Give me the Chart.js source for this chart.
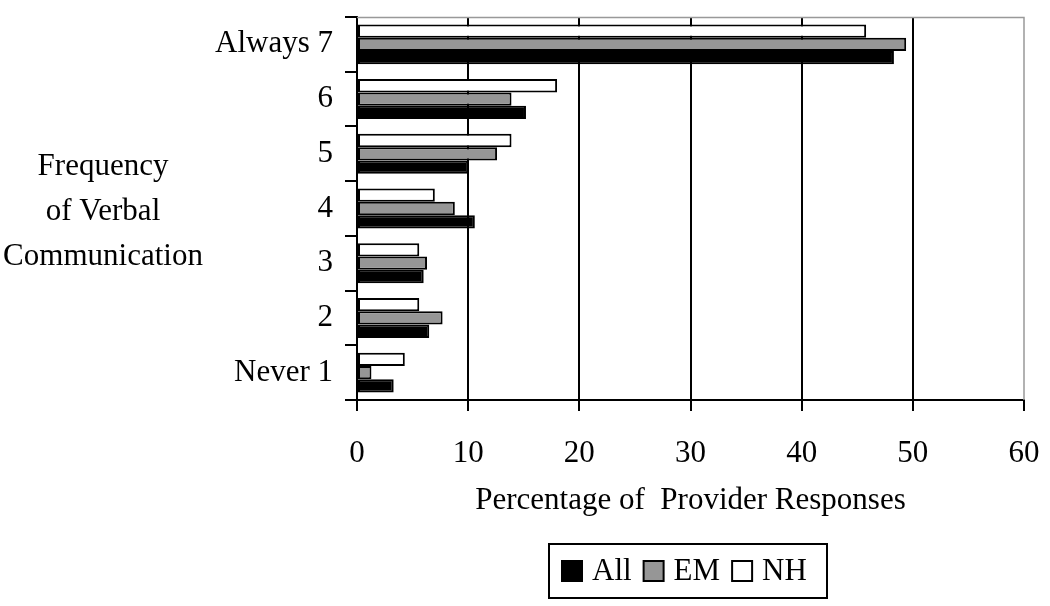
<!DOCTYPE html>
<html>
<head>
<meta charset="utf-8">
<script src="https://cdn.jsdelivr.net/npm/chart.js@4.4.1/dist/chart.umd.min.js"></script>
<style>
    body{ margin:0; background:#fff; }
    #wrap{ width:1050px; height:606px; }
</style>
</head>
<body>
<div id="wrap"><canvas id="freq-chart" width="1050" height="606"></canvas></div>
<script>
const categories = ['Always 7', '6', '5', '4', '3', '2', 'Never 1'];
const allValues = [48.3, 15.2, 10.0, 10.6, 6.0, 6.5, 3.3];
const emValues = [49.4, 13.9, 12.6, 8.8, 6.3, 7.7, 1.3];
const nhValues = [45.8, 18.0, 13.9, 7.0, 5.6, 5.6, 4.3];
const xMin = 0;
const xMax = 60;
const xStep = 10;
const yTitleLines = ['Frequency', 'of Verbal', 'Communication'];
const xTitle = 'Percentage of  Provider Responses';

const FONT = 'Liberation Serif, Times New Roman, serif';
const SIZE = 31;

// draws the grey frame, the horizontal y title and the boxed legend
const extras = {
    id: 'extras',
    afterDraw(chart){
        const ctx = chart.ctx;
        const a = chart.chartArea;
        ctx.save();

        ctx.strokeStyle = '#999999';
        ctx.lineWidth = 1.5;
        ctx.beginPath();
        ctx.moveTo(a.left, a.top + 0.5);
        ctx.lineTo(a.right, a.top + 0.5);
        ctx.lineTo(a.right, a.bottom);
        ctx.stroke();

        ctx.fillStyle = '#000';
        ctx.font = `${SIZE}px ${FONT}`;
        ctx.textAlign = 'center';
        ctx.textBaseline = 'middle';
        yTitleLines.forEach((t, i) =>{
            ctx.fillText(t, 103, 167 + i * 45);
        });

        // legend, in reverse dataset order (All, EM, NH)
        const items = chart.data.datasets.slice().reverse();
        ctx.lineWidth = 2;
        ctx.strokeStyle = '#000';
        ctx.strokeRect(549, 544, 278, 54);
        ctx.textAlign = 'left';
        let x = 562;
        items.forEach((d) =>{
            ctx.fillStyle = d.backgroundColor;
            ctx.fillRect(x, 561, 20, 20);
            ctx.strokeRect(x, 561, 20, 20);
            ctx.fillStyle = '#000';
            ctx.fillText(d.label, x + 30, 572);
            x += 30 + ctx.measureText(d.label).width + 12;
        });
        ctx.restore();
    }
};

const ctx = document.getElementById('freq-chart');

new Chart(ctx, {
    type: 'bar',
    data: {
        labels: categories,
        datasets: [
            { label: 'NH', data: nhValues, backgroundColor: '#ffffff' },
            { label: 'EM', data: emValues, backgroundColor: '#969696' },
            { label: 'All', data: allValues, backgroundColor: '#000000' }
        ]
    },
    options: {
        indexAxis: 'y',
        responsive: false,
        animation: false,
        layout: {
            padding: { top: 17, right: 26, bottom: 87, left: 0 }
        },
        datasets: {
            bar: {
                borderColor: '#000',
                borderWidth: 2,
                borderSkipped: false,
                categoryPercentage: 0.73,
                barPercentage: 1
            }
        },
        plugins: {
            legend: { display: false },
            tooltip: { enabled: false }
        },
        scales: {
            x: {
                min: xMin,
                max: xMax,
                afterFit: (scale) =>{
                    scale.height = 119;
                    scale.paddingLeft = 0;
                    scale.paddingRight = 0;
                },
                ticks: {
                    stepSize: xStep,
                    color: '#000',
                    padding: 24,
                    font: { family: FONT, size: SIZE }
                },
                grid: {
                    color: (c) => (c.tick && c.tick.value === xMax) ? 'rgba(0,0,0,0)' : '#000',
                    tickColor: '#000',
                    lineWidth: 2,
                    tickLength: 11
                },
                border: { color: '#000', width: 2 },
                title: {
                    display: true,
                    text: xTitle,
                    color: '#000',
                    padding: 0,
                    font: { family: FONT, size: SIZE }
                }
            },
            y: {
                afterFit: (scale) =>{
                    scale.width = 357;
                    scale.paddingTop = 0;
                    scale.paddingBottom = 0;
                },
                ticks: {
                    color: '#000',
                    padding: 12,
                    font: { family: FONT, size: SIZE }
                },
                grid: {
                    drawOnChartArea: false,
                    color: '#000',
                    lineWidth: 2,
                    tickLength: 12
                },
                border: { color: '#000', width: 2 }
            }
        }
    },
    plugins: [extras]
});
</script>
</body>
</html>
